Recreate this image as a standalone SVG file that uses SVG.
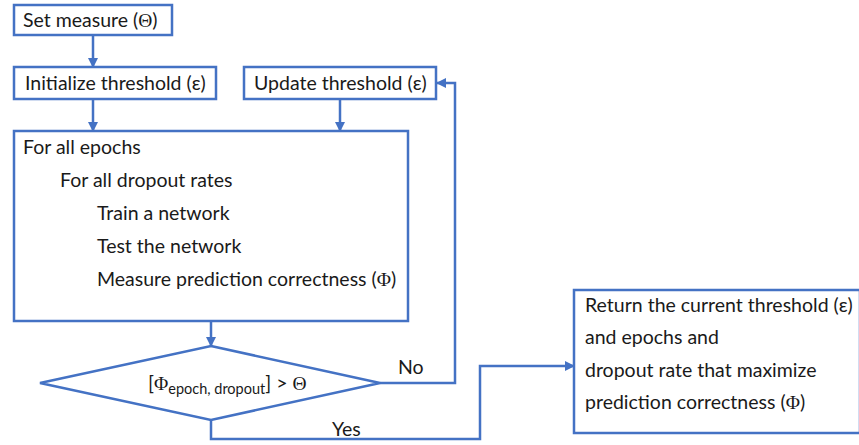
<svg xmlns="http://www.w3.org/2000/svg" width="859" height="445" viewBox="0 0 859 445">
<defs>
<style>
.box{fill:#fff;stroke:#4472C4;stroke-width:2.5}
.ln{fill:none;stroke:#4472C4;stroke-width:2.5}
.t{font-family:Lato,"Open Sans","Liberation Sans",sans-serif;font-size:19.5px;fill:#1a1a1a}
.s{font-family:"Liberation Serif","DejaVu Serif",serif}
</style>
<marker id="ah" viewBox="0 0 10 10" refX="9" refY="5" markerWidth="4" markerHeight="4" orient="auto" markerUnits="strokeWidth">
<path d="M0,0 L10,5 L0,10 z" fill="#4472C4"/>
</marker>
</defs>
<rect width="859" height="445" fill="#fff"/>
<g id="connectors">
<line class="ln" x1="93" y1="35" x2="93" y2="67" marker-end="url(#ah)"/>
<line class="ln" x1="93" y1="99" x2="93" y2="131" marker-end="url(#ah)"/>
<line class="ln" x1="340" y1="99" x2="340" y2="131" marker-end="url(#ah)"/>
<line class="ln" x1="211" y1="321" x2="211" y2="346" marker-end="url(#ah)"/>
<polyline class="ln" points="380,383 455,383 455,83 437,83" marker-end="url(#ah)"/>
<polyline class="ln" points="211,420 211,439 480,439 480,366 574,366" marker-end="url(#ah)"/>
<text class="t" x="398" y="374">No</text>
<text class="t" x="332" y="436">Yes</text>
</g>
<g id="set-measure">
<rect class="box" x="14" y="5" width="158" height="30"/>
<text class="t" x="23" y="27">Set measure (<tspan class="s">Θ</tspan>)</text>
</g>
<g id="init-threshold">
<rect class="box" x="14" y="67" width="202" height="32"/>
<text class="t" x="25" y="90">Initialize threshold (ε)</text>
</g>
<g id="update-threshold">
<rect class="box" x="244" y="67" width="192" height="32"/>
<text class="t" x="254" y="90">Update threshold (ε)</text>
</g>
<g id="loop">
<rect class="box" x="14" y="131" width="394" height="190"/>
<text class="t" x="23" y="154">For all epochs</text>
<text class="t" x="60" y="187">For all dropout rates</text>
<text class="t" x="97" y="220">Train a network</text>
<text class="t" x="97" y="253">Test the network</text>
<text class="t" x="97" y="286">Measure prediction correctness (<tspan class="s">Φ</tspan>)</text>
</g>
<g id="decision">
<polygon class="box" points="211,346 380,383 211,420 40,383"/>
<text class="t" x="148" y="390">[<tspan class="s">Φ</tspan><tspan font-size="14.5" dy="4">epoch, dropout</tspan><tspan dy="-4">] &gt;  </tspan><tspan class="s">Θ</tspan></text>
</g>
<g id="return">
<rect class="box" x="574" y="290" width="286" height="143"/>
<text class="t" x="585" y="312">Return the current threshold (ε)</text>
<text class="t" x="585" y="344">and epochs and</text>
<text class="t" x="585" y="377">dropout rate that maximize</text>
<text class="t" x="585" y="409">prediction correctness (<tspan class="s">Φ</tspan>)</text>
</g>
</svg>
